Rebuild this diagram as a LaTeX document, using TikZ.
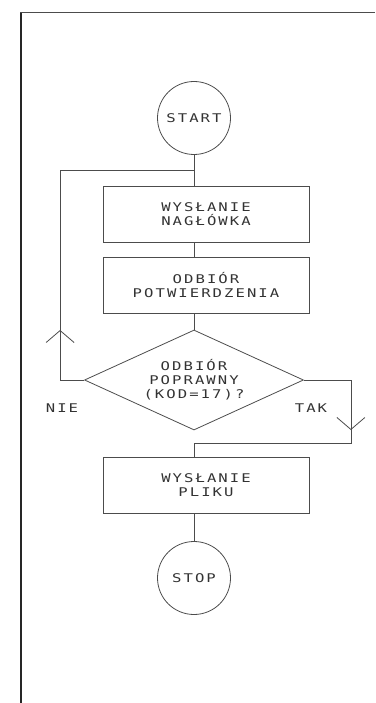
\documentclass[tikz,border=0pt]{standalone}
\usepackage{fontspec}
\usetikzlibrary{shapes.geometric}
\usetikzlibrary{arrows.meta}
\usetikzlibrary{decorations.markings}
\newfontfamily\dotfont{DejaVu Sans Mono}[FakeStretch=1.3,LetterSpace=17]

\begin{document}
\begin{tikzpicture}[
    x=1pt, y=-1pt,
    every node/.style={%
      font={\dotfont\fontsize{12}{14}\selectfont},
      text=black!80,
    },
    term/.style={%
      draw=black!70,
      circle,
      line width=0.8pt,
      minimum size=73pt,
      inner sep=0pt,
    },
    proc/.style={%
      draw=black!70,
      rectangle,
      line width=0.8pt,
      minimum width=206pt,
      minimum height=56pt,
      align=center,
    },
    test/.style={%
      draw=black!70,
      diamond,
      line width=0.8pt,
      aspect=2.2,
      minimum width=219pt,
      minimum height=100pt,
      inner sep=0pt,
      align=center,
    },
    link/.style={%
      draw=black!70,
      line width=0.8pt,
    },
    chev/.style={%
      postaction={decorate},
      decoration={markings,
        mark=at position #1 with {\arrow{Straight Barb[length=12pt,width=28pt]}}},
    },
  ]

    \useasboundingbox (0,0) rectangle (375,703);

    % page frame
    \draw [black!70, line width=1pt] (20,13) -- (375,13);
    \draw [black!85, line width=2.5pt] (21,13) -- (21,703);

    \node [term] (A) at (194,118) {START};
    \node [proc] (B) at (206,214) {WYSŁANIE\\NAGŁÓWKA};
    \node [proc] (C) at (206,285) {ODBIÓR\\POTWIERDZENIA};
    \node [test] (D) at (194,380) {ODBIÓR\\POPRAWNY\\(KOD=17)?};
    \node [proc] (E) at (206,485) {WYSŁANIE\\PLIKU};
    \node [term] (F) at (194,578) {STOP};

    \node (G) at (62,408) {NIE};
    \node (H) at (311,408) {TAK};

    \coordinate (J1) at (194,170);
    \coordinate (J2) at (194,443);

    \draw [link] (A) -- (A |- B.north);
    \draw [link] (B.south -| A) -- (C.north -| A);
    \draw [link] (C.south -| D) -- (D);
    \draw [link] (E.south -| F) -- (F);

    % NIE: back to sending the header
    \draw [link, chev=74pt] (D.west) -- ++(-24,0) |- (J1);
    % TAK: on to sending the file
    \draw [link, chev=97pt] (D.east) -- ++(47,0) |- (J2) -- (J2 |- E.north);

\end{tikzpicture}
\end{document}
